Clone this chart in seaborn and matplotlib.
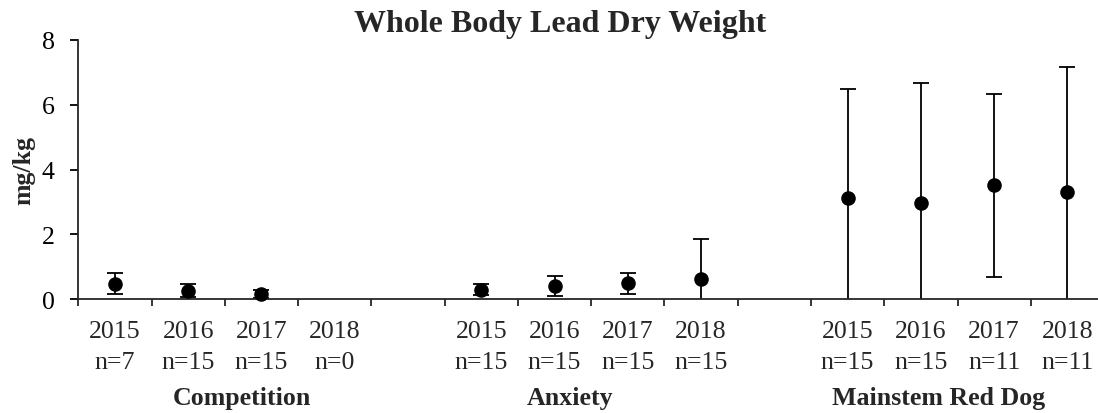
import numpy as np
import pandas as pd
import matplotlib
matplotlib.use("Agg")
import matplotlib.pyplot as plt
import matplotlib.transforms as mtransforms
import seaborn as sns

# --- data (mean +/- sd, mg/kg) ---
sites = ["Competition", "Anxiety", "Mainstem Red Dog"]
years = ["2015", "2016", "2017", "2018"]

n_competition = [7, 15, 15, 0]
n_anxiety = [15, 15, 15, 15]
n_mainstem = [15, 15, 11, 11]

mean_competition = [0.48, 0.27, 0.17, np.nan]
sd_competition = [0.32, 0.19, 0.13, np.nan]
mean_anxiety = [0.30, 0.40, 0.49, 0.63]
sd_anxiety = [0.16, 0.31, 0.33, 1.24]
mean_mainstem = [3.12, 2.97, 3.51, 3.31]
sd_mainstem = [3.36, 3.70, 2.83, 3.85]

# --- build table, one empty slot between sites ---
rows = []
for i, (site, ns, ms, sds) in enumerate(zip(
        sites,
        [n_competition, n_anxiety, n_mainstem],
        [mean_competition, mean_anxiety, mean_mainstem],
        [sd_competition, sd_anxiety, sd_mainstem])):
    for j, yr in enumerate(years):
        rows.append({"site": site, "year": yr, "n": ns[j],
                     "mean": ms[j], "sd": sds[j], "pos": i * 5 + j})
df = pd.DataFrame(rows)

sns.set_style("ticks")
plt.rcParams["font.family"] = ["Liberation Serif", "DejaVu Serif"]
plt.rcParams["axes.linewidth"] = 1.3

fig = plt.figure(figsize=(10.98, 4.14), dpi=100)
ax = fig.add_axes([0.0713, 0.2746, 0.9342, 0.627])

ax.errorbar(df["pos"], df["mean"], yerr=df["sd"], fmt="none",
            ecolor="black", elinewidth=1.3, capsize=5.5, capthick=1.3, zorder=2)
sns.scatterplot(data=df, x="pos", y="mean", ax=ax, color="black", s=110,
                edgecolor="black", linewidth=0, zorder=3, clip_on=False)

ax.set_xlim(-0.5, 13.5)
ax.set_ylim(0, 8)
ax.set_yticks([0, 2, 4, 6, 8])
ax.tick_params(axis="y", labelsize=18.6, length=6, width=1.3, pad=11, colors="black")

# boundaries get tick marks, slot centres get the labels
ax.set_xticks(np.arange(-0.5, 13.6, 1.0))
ax.set_xticklabels([])
ax.set_xticks(df["pos"], minor=True)
ax.set_xticklabels([f"{y}\nn={n}" for y, n in zip(df["year"], df["n"])],
                   minor=True, linespacing=1.5)
ax.tick_params(axis="x", which="major", length=5, width=1.3, direction="out")
ax.tick_params(axis="x", which="minor", length=0, labelsize=18.6, pad=15)
ax.set_xlabel("")
ax.set_ylabel("")
sns.despine(ax=ax)

# site names under each block (as placed in the original)
group_label_x = [1.73, 6.21, 11.24]
trans = mtransforms.blended_transform_factory(ax.transData, fig.transFigure)
for site, gx in zip(sites, group_label_x):
    ax.text(gx, 0.0217, site, transform=trans, ha="center", va="baseline",
            fontsize=18.6, fontweight="bold")

fig.text(0.51, 0.9234, "Whole Body Lead Dry Weight", ha="center", va="baseline",
         fontsize=23, fontweight="bold")
fig.text(0.0219, 0.5887, "mg/kg", rotation=90, ha="center", va="center",
         fontsize=18.6, fontweight="bold")

fig.savefig("out.png", dpi=100, facecolor="white")
